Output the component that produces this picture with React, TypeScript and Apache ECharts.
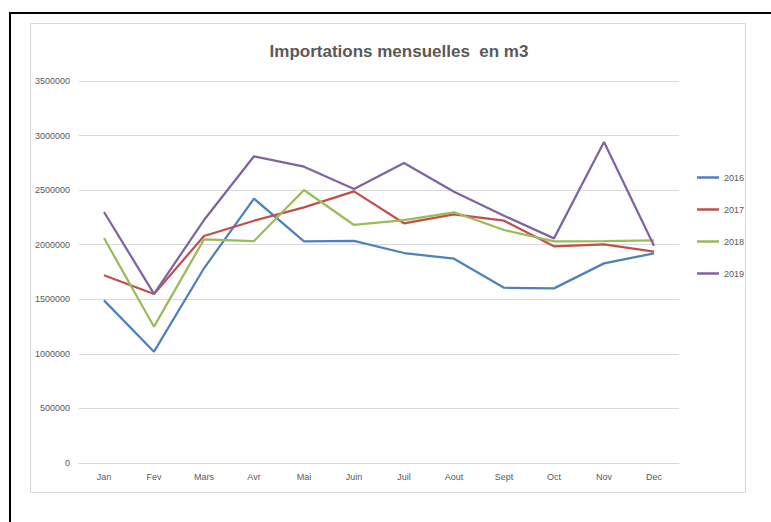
import React, { useEffect, useRef } from "react";
import * as echarts from "echarts";

const months = ["Jan", "Fev", "Mars", "Avr", "Mai", "Juin", "Juil", "Aout", "Sept", "Oct", "Nov", "Dec"];
const years = ["2016", "2017", "2018", "2019"];
const s2016 = [1490000, 1020000, 1784000, 2422000, 2031000, 2035000, 1924000, 1872000, 1606000, 1600000, 1829000, 1921000];
const s2017 = [1720000, 1548000, 2080000, 2220000, 2342000, 2489000, 2196000, 2278000, 2220000, 1985000, 2003000, 1936000];
const s2018 = [2061000, 1249000, 2049000, 2034000, 2501000, 2181000, 2226000, 2297000, 2135000, 2031000, 2034000, 2040000];
const s2019 = [2300000, 1550000, 2226000, 2810000, 2715000, 2510000, 2749000, 2486000, 2266000, 2058000, 2941000, 1991000];
const colors = ["#4F81BD", "#C0504D", "#9BBB59", "#8064A2"];
const titleText = "Importations mensuelles  en m3";

export default function App() {
  const ref = useRef<HTMLDivElement>(null);
  useEffect(() => {
    if (!ref.current) return;
    const chart = echarts.init(ref.current, null, { renderer: "svg" });
    const data = [s2016, s2017, s2018, s2019];
    chart.setOption({
      animation: false,
      backgroundColor: "#ffffff",
      title: {
        text: titleText,
        left: 394,
        textAlign: "center",
        top: 38,
        textStyle: { fontFamily: "Liberation Sans", fontSize: 17, fontWeight: "bold", color: "#595959" },
      },
      graphic: [
        {
          type: "rect",
          shape: { x: 30.5, y: 23.5, width: 715, height: 469 },
          style: { fill: "none", stroke: "#D9D9D9", lineWidth: 1 },
          silent: true,
        },
        {
          type: "rect",
          shape: { x: 10, y: 13, width: 900, height: 700 },
          style: { fill: "none", stroke: "#000000", lineWidth: 2 },
          silent: true,
        },
      ],
      legend: {
        orient: "vertical",
        left: 692,
        top: 167,
        icon: "rect",
        itemWidth: 22,
        itemHeight: 2.5,
        itemGap: 21,
        data: years,
        textStyle: { fontFamily: "Liberation Sans", fontSize: 9, color: "#595959", lineHeight: 11 },
      },
      grid: { left: 79, right: 92, top: 81, bottom: 59 },
      xAxis: {
        type: "category",
        data: months,
        boundaryGap: true,
        axisLine: { show: true, lineStyle: { color: "#D9D9D9", width: 1 } },
        axisTick: { show: false },
        axisLabel: { fontFamily: "Liberation Sans", fontSize: 9, color: "#595959", margin: 9 },
      },
      yAxis: {
        type: "value",
        min: 0,
        max: 3500000,
        interval: 500000,
        axisLine: { show: false },
        axisTick: { show: false },
        splitLine: { lineStyle: { color: "#D9D9D9", width: 1 } },
        axisLabel: {
          fontFamily: "Liberation Sans",
          fontSize: 9,
          color: "#595959",
          margin: 9,
          formatter: (v: number) => String(v),
        },
      },
      series: years.map((y, i) => ({
        name: y,
        type: "line",
        data: data[i],
        symbol: "none",
        lineStyle: { color: colors[i], width: 2.25 },
        itemStyle: { color: colors[i] },
      })),
    });
    return () => chart.dispose();
  }, []);
  return <div ref={ref} style={{ position: "absolute", left: 0, top: 0, width: 771, height: 522 }} />;
}
